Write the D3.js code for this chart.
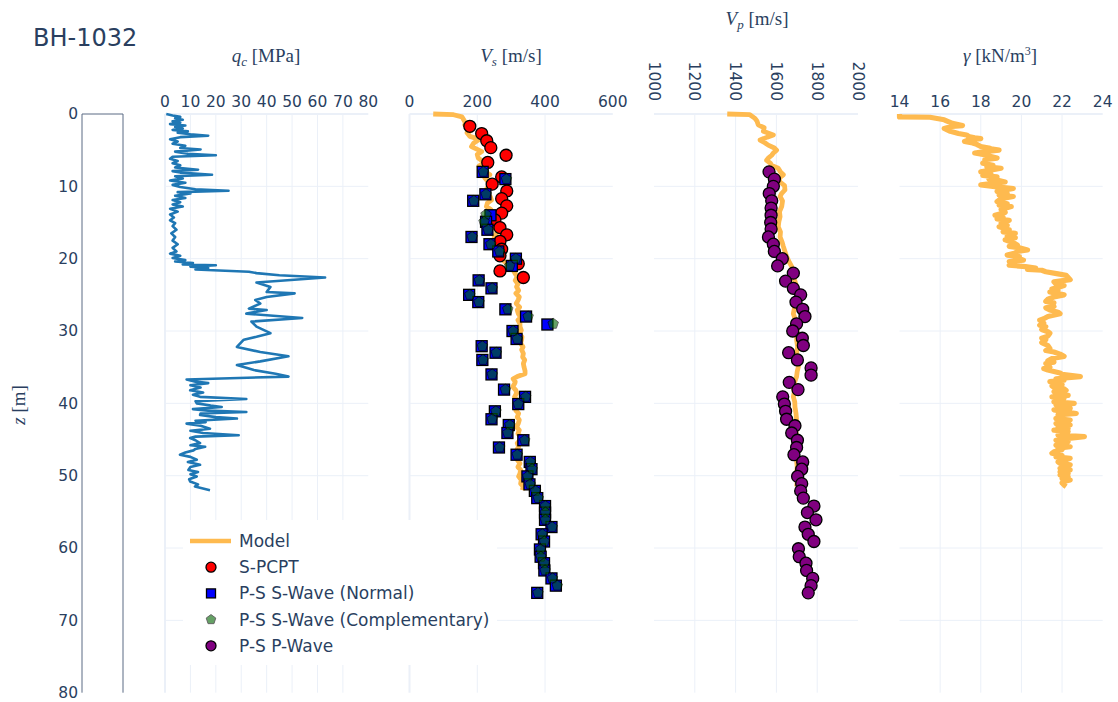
<!DOCTYPE html>
<html>
<head>
<meta charset="utf-8">
<script src="https://cdn.jsdelivr.net/npm/d3@7"></script>
<style>
  body { margin: 0; background: #fff; }
  text { font-family: "DejaVu Sans", Verdana, sans-serif; fill: #2a3f5f; }
  .math { font-family: "Liberation Serif", "DejaVu Serif", serif; }
</style>
</head>
<body>
<script>
const width = 1118, height = 702;

// ---- data ----
const depthTicks = [0, 10, 20, 30, 40, 50, 60, 70, 80];
const qcTicks = [0, 10, 20, 30, 40, 50, 60, 70, 80];
const vsTicks = [0, 200, 400, 600];
const vpTicks = [1000, 1200, 1400, 1600, 1800, 2000];
const gammaTicks = [14, 16, 18, 20, 22, 24];

// [depth m, qc MPa]
const qcProfile = [
  [0.0,0.5],[0.2,3],[0.4,6],[0.6,4],[0.8,7],[1.0,3],[1.2,6],[1.4,2],[1.6,8],[1.8,4],[2.0,7],[2.2,3],
  [2.4,9],[2.6,5],[2.8,10],[3.0,17],[3.2,6],[3.5,2],[3.8,5],[4.1,3],[4.4,8],[4.7,6],[4.9,14],[5.2,4],
  [5.5,9],[5.7,20],[5.9,3],[6.2,2],[6.5,5],[6.8,3],[7.1,6],[7.4,4],[7.7,13],[7.9,3],[8.1,6],[8.4,18.5],
  [8.6,4],[8.9,7],[9.2,2],[9.5,8],[9.8,3],[10.1,6],[10.4,12],[10.6,25],[10.8,5],[11.0,10],[11.3,4],
  [11.6,8],[11.9,3],[12.2,6],[12.5,3],[12.8,7],[13.1,2],[13.5,5],[13.9,2],[14.3,3.5],[14.7,2],[15.1,4],
  [15.5,3],[16.0,4.5],[16.5,2.5],[17.0,4],[17.5,3],[18.0,5],[18.5,3],[19.0,4.5],[19.3,2],[19.6,6],
  [19.9,3],[20.2,8],[20.4,4],[20.6,11],[20.8,7],[20.9,20],[21.1,10],[21.3,17],[21.5,12],[21.6,19],
  [21.8,33],[22.0,36],[22.3,45],[22.6,63],[23.3,36],[23.9,41.5],[24.6,40],[24.8,51],[25.3,40],
  [25.7,35.5],[26.2,37.5],[26.9,33],[27.1,40],[27.6,32],[28.2,54],[28.7,34],[29.4,36],[30.3,41.5],
  [30.8,36],[31.2,31],[32.2,28.3],[32.9,37.5],[33.5,48.6],[34.2,37.5],[34.7,28.3],[35.4,35],[35.9,43.5],
  [36.3,48.6],[36.7,8.5],[37.0,12],[37.2,17],[37.5,10],[37.8,14],[38.2,9.9],[38.5,15],[38.8,11],
  [39.1,13.8],[39.4,32],[39.7,12],[40.0,12.5],[40.3,18],[40.5,22.3],[40.8,11],[41.0,17],[41.2,32],
  [41.4,14],[41.6,13.8],[41.9,20],[42.1,28.3],[42.4,12],[42.6,16],[42.8,8.5],[43.1,14],[43.5,17.7],
  [43.8,10],[44.1,15],[44.4,29],[44.6,12],[44.8,9.9],[45.1,12],[45.5,13.8],[45.8,10],[46.0,15.8],
  [46.3,12],[46.5,11.2],[46.8,8],[47.1,5.9],[47.4,10],[47.8,12.5],[48.1,9],[48.5,13.8],[48.8,10],
  [49.2,9.2],[49.5,13],[49.8,10],[50.1,12.5],[50.5,9.5],[50.8,9.9],[51.2,13],[51.5,11.8],[52.0,17.7]
];

// [depth m, Vs m/s]
const vsModel = [
  [0,70],[0.1,130],[0.4,155],[0.8,160],[1.2,165],[1.5,163],[1.9,180],[2.2,183],[2.6,170],[3.1,178],
  [3.4,200],[3.6,203],[4.0,190],[4.5,183],[4.9,200],[5.2,213],[5.6,200],[6.1,203],[6.5,215],[6.8,218],
  [7.2,205],[7.7,208],[8.0,225],[8.4,237],[8.8,222],[9.1,227],[9.5,238],[10.0,232],[10.5,226],[11.0,223],
  [11.4,238],[11.9,242],[12.3,230],[12.8,227],[13.2,240],[13.7,237],[14.2,248],[14.7,252],[15.1,244],
  [15.6,247],[16.0,258],[16.5,257],[17.0,250],[17.4,252],[17.9,262],[18.3,267],[18.8,258],[19.3,262],
  [19.7,270],[20.1,272],[20.6,285],[21.1,296],[21.5,305],[22.0,311],[22.5,318],[23.0,312],[23.5,320],
  [23.9,316],[24.4,322],[24.8,314],[25.3,324],[25.7,321],[26.2,315],[26.7,325],[27.1,318],[27.6,321],
  [28.1,328],[28.5,320],[29.0,326],[29.4,326],[29.9,330],[30.4,324],[30.8,332],[31.2,331],[31.7,328],
  [32.2,335],[32.6,331],[33.1,336],[33.6,334],[34.0,340],[34.5,336],[35.0,338],[35.5,341],[35.9,341],
  [36.3,318],[36.6,306],[37.0,312],[37.2,311],[37.7,305],[38.2,314],[38.6,316],[39.1,310],[39.6,318],
  [40.0,315],[40.5,321],[41.0,314],[41.4,322],[41.9,318],[42.3,324],[42.8,321],[43.3,316],[43.7,324],
  [44.2,320],[44.6,328],[45.1,326],[45.5,318],[46.0,322],[46.5,316],[46.9,323],[47.4,321],[47.8,318],
  [48.3,326],[48.8,320],[49.2,328],[49.7,326],[50.1,322],[50.6,330],[51.1,328],[51.5,336],[52.0,333]
];
const vsPCPT = [
  [1.7,178],[2.7,213],[3.7,228],[4.65,240],[5.7,285],[6.7,231],[8.7,272],[9.7,244],[10.65,287],
  [11.7,272],[12.7,287],[13.7,272],[14.65,252],[15.7,267],[16.7,287],[17.6,267],[18.7,272],[19.6,267],
  [20.7,321],[21.7,267],[22.6,336]
];
const vsNormal = [
  [8.0,216],[9.0,283],[11.1,224],[12.0,188],[14.0,239],[14.9,226],[16.0,230],[17.0,183],[18.0,236],
  [19.0,262],[20.0,314],[21.0,302],[23.0,204],[24.1,242],[25.0,176],[26.0,203],[27.0,283],[28.0,344],
  [29.1,407],[30.0,304],[31.1,316],[32.1,213],[33.0,254],[34.0,215],[36.0,242],[38.1,279],[39.1,341],
  [40.1,321],[41.1,252],[42.2,242],[43.0,293],[44.1,289],[45.1,336],[46.1,264],[47.1,316],[48.1,355],
  [49.1,360],[50.1,348],[51.2,354],[52.1,370],[53.1,377],[54.2,400],[55.1,400],[56.1,400],[57.1,419],
  [58.1,390],[59.1,397],[60.2,385],[61.2,387],[62.1,397],[63.1,398],[64.2,419],[65.2,432],[66.2,377]
];
const vsComplementary = [
  [8.0,218],[9.0,286],[11.1,226],[12.0,190],[13.9,226],[14.9,220],[16.0,232],[17.0,185],[18.0,240],
  [19.0,266],[20.0,314],[21.0,296],[23.0,206],[24.1,244],[25.0,178],[26.0,205],[27.0,290],[28.0,350],
  [29.0,424],[30.0,306],[31.1,318],[32.1,215],[33.0,256],[34.0,217],[36.0,244],[38.1,283],[39.1,343],
  [40.1,321],[41.1,255],[42.2,244],[43.0,296],[44.1,290],[45.1,340],[46.1,266],[47.1,318],[48.1,357],
  [49.1,362],[50.1,349],[51.2,356],[52.1,372],[53.1,380],[54.2,401],[55.1,401],[56.1,401],[57.1,421],
  [58.1,392],[59.1,398],[60.2,387],[61.2,388],[62.1,398],[63.1,400],[64.2,422],[65.2,436],[66.2,379]
];

// [depth m, Vp m/s]
const vpModel = [
  [0,1359],[0.1,1470],[0.6,1495],[1.0,1505],[1.5,1511],[1.9,1540],[2.4,1536],[2.9,1585],[3.2,1555],
  [3.6,1520],[4.0,1545],[4.3,1560],[4.7,1590],[5.0,1601],[5.4,1585],[5.7,1577],[6.1,1560],[6.4,1552],
  [6.8,1570],[7.1,1577],[7.5,1609],[8.0,1620],[8.4,1634],[8.9,1612],[9.4,1618],[9.9,1640],[10.5,1642],
  [11.0,1625],[11.4,1618],[12.0,1630],[12.8,1626],[13.5,1615],[14.2,1618],[14.9,1612],[15.6,1609],
  [16.3,1620],[17.0,1618],[17.7,1628],[18.3,1634],[19.0,1642],[19.7,1650],[20.4,1662],[21.1,1675],
  [21.8,1680],[22.5,1683],[23.2,1692],[23.9,1699],[24.8,1702],[25.7,1699],[26.6,1690],[27.6,1683],
  [28.5,1694],[29.4,1699],[30.3,1702],[31.2,1699],[32.2,1704],[33.1,1699],[34.0,1706],[34.9,1708],
  [35.6,1702],[36.3,1699],[37.0,1690],[37.7,1683],[38.4,1688],[39.1,1683],[39.8,1690],[40.5,1691],
  [41.4,1696],[42.3,1699],[43.2,1694],[44.2,1697],[45.1,1702],[46.0,1699],[47.0,1697],[47.9,1699],
  [48.8,1702],[49.7,1699],[50.6,1703],[51.5,1699]
];
const vpPWave = [
  [8.0,1564],[9.0,1590],[10.0,1585],[11.0,1565],[12.0,1577],[13.0,1574],[14.0,1574],[15.0,1572],
  [15.9,1574],[17.0,1561],[18.0,1585],[19.0,1590],[20.0,1629],[21.0,1606],[22.0,1683],[23.1,1645],
  [24.1,1683],[25.0,1719],[26.0,1696],[27.0,1729],[28.0,1740],[29.0,1699],[30.0,1680],[31.0,1727],
  [32.0,1732],[33.0,1660],[34.0,1703],[35.1,1770],[36.1,1770],[37.1,1663],[38.1,1706],[39.1,1631],
  [40.1,1639],[41.1,1645],[42.2,1650],[43.1,1691],[44.1,1675],[45.1,1703],[46.1,1699],[47.1,1686],
  [48.1,1729],[49.1,1724],[50.1,1704],[51.1,1724],[52.1,1719],[53.1,1732],[54.2,1784],[55.1,1752],
  [56.1,1794],[57.1,1740],[58.1,1756],[59.1,1784],[60.1,1708],[61.2,1712],[62.1,1745],[63.1,1748],
  [64.2,1778],[65.2,1770],[66.2,1756]
];

// [depth m, unit weight kN/m3]
const gammaModel = [
  [0.0,14.0],[0.4,14.0],[0.45,15.5],[0.8,16.2],[1.3,16.6],[1.6,17.1],[1.7,16.6],[2.0,16.2],[2.4,16.5],
  [2.7,16.9],[2.9,17.3],[3.1,17.4],[3.3,17.7],[3.4,18.0],[3.6,17.4],[3.8,17.2],[4.0,17.6],[4.2,17.8],
  [4.5,18.0],[4.7,18.4],[4.8,18.5],[5.0,18.9],[5.2,18.2],[5.4,17.7],[5.6,18.1],[5.8,18.4],[6.1,18.8],
  [6.3,18.2],[6.4,18.3],[6.8,18.1],[7.1,18.6],[7.3,18.3],[7.5,19.0],[7.8,18.4],[8.0,18.0],[8.3,18.5],
  [8.5,18.1],[8.7,18.8],[9.0,18.4],[9.2,18.9],[9.4,19.2],[9.6,18.6],[9.8,18.0],[10.1,18.9],[10.3,19.6],
  [10.5,19.2],[10.7,18.8],[11.0,19.3],[11.2,18.9],[11.4,19.6],[11.7,19.0],[12.1,18.8],[12.4,19.3],
  [12.6,18.9],[12.8,19.5],[13.2,19.0],[13.6,19.2],[14.0,18.7],[14.3,19.1],[14.5,18.8],[14.7,19.4],
  [15.1,19.0],[15.4,19.3],[15.6,18.9],[16.0,19.4],[16.3,19.1],[16.5,19.7],[16.9,19.3],[17.1,19.7],
  [17.4,19.2],[17.8,19.6],[18.1,19.8],[18.3,19.4],[18.5,19.9],[18.8,20.3],[19.0,19.8],[19.2,19.7],
  [19.5,19.3],[19.7,19.9],[19.9,19.8],[20.2,20.1],[20.4,19.4],[20.6,19.6],[20.9,19.4],[21.1,20.2],
  [21.3,20.7],[21.5,20.3],[21.6,21.0],[21.8,21.2],[22.1,21.8],[22.3,22.2],[22.6,22.3],[22.9,22.4],
  [23.2,21.6],[23.5,21.7],[23.7,22.1],[23.9,21.9],[24.2,21.5],[24.4,21.8],[24.6,21.4],[25.0,22.1],
  [25.3,21.6],[25.6,21.3],[25.9,21.2],[26.1,21.6],[26.3,21.5],[26.6,21.6],[26.8,21.2],[27.1,21.4],
  [27.4,21.8],[27.6,21.9],[28.0,21.3],[28.3,21.1],[28.5,20.9],[28.9,21.1],[29.2,20.9],[29.4,21.2],
  [29.8,21.0],[30.1,21.3],[30.3,21.4],[30.7,21.3],[31.0,21.0],[31.2,21.2],[31.6,21.0],[32.0,21.3],
  [32.4,21.4],[32.7,21.2],[32.9,21.6],[33.2,21.9],[33.5,22.1],[33.8,21.5],[34.1,21.3],[34.3,21.6],
  [34.5,21.2],[35.0,21.4],[35.2,21.1],[35.4,21.3],[35.8,21.9],[36.0,22.0],[36.3,22.9],[36.6,21.7],
  [36.8,22.1],[37.0,21.4],[37.2,21.9],[37.4,22.0],[37.6,21.5],[37.8,21.6],[38.0,22.1],[38.2,22.2],
  [38.4,21.6],[38.6,21.8],[38.9,22.3],[39.1,21.5],[39.3,22.1],[39.5,22.0],[39.8,21.6],[40.0,22.6],
  [40.2,21.7],[40.4,21.9],[40.7,22.4],[40.9,21.6],[41.2,22.2],[41.4,22.7],[41.6,21.8],[41.8,22.0],
  [42.1,21.7],[42.3,22.4],[42.5,22.3],[42.8,21.7],[43.0,22.4],[43.3,21.8],[43.5,22.3],[43.7,21.6],
  [43.9,22.3],[44.1,22.2],[44.4,21.8],[44.6,23.1],[44.9,22.1],[45.1,21.7],[45.3,22.3],[45.5,22.1],
  [45.8,21.7],[46.0,22.4],[46.2,21.8],[46.4,22.0],[46.7,21.6],[46.9,21.5],[47.2,22.0],[47.4,21.7],
  [47.6,22.4],[47.9,22.1],[48.1,21.8],[48.3,21.9],[48.5,22.4],[48.7,22.2],[49.0,21.9],[49.2,22.4],
  [49.5,21.9],[49.7,22.3],[49.9,21.9],[50.2,22.3],[50.4,22.0],[50.6,22.4],[50.8,22.1],[51.0,22.0],
  [51.3,22.1],[51.5,22.2]
];

const legendNames = ["Model", "S-PCPT", "P-S S-Wave (Normal)", "P-S S-Wave (Complementary)", "P-S P-Wave"];

// ---- layout ----
const gridColor = "#EBF0F8", modelColor = "#FEBA4F";

const svg = d3.select("body").append("svg")
    .attr("width", width)
    .attr("height", height);

const y = d3.scaleLinear().domain([0, 80]).range([114, 692.7]);

const xQc = d3.scaleLinear().domain([0, 80]).range([165, 368.3]);
const xVs = d3.scaleLinear().domain([0, 600]).range([409.5, 612.8]);
const xVp = d3.scaleLinear().domain([1000, 2000]).range([654, 858]);
const xGamma = d3.scaleLinear().domain([14, 24]).range([899.5, 1102.7]);

function drawGrid(x, ticks, rotated) {
  const [x0, x1] = x.range();
  const g = svg.append("g");
  g.selectAll("line.h")
    .data(depthTicks.filter(d => d < 80))
    .join("line")
    .attr("x1", x0).attr("x2", x1)
    .attr("y1", d => y(d)).attr("y2", d => y(d))
    .attr("stroke", gridColor)
    .attr("stroke-width", d => d === 0 ? 2 : 1);
  g.selectAll("line.v")
    .data(ticks.filter(d => d === 0 || (d > x.domain()[0] && d < x.domain()[1])))
    .join("line")
    .attr("x1", d => x(d)).attr("x2", d => x(d))
    .attr("y1", y(0)).attr("y2", y(80))
    .attr("stroke", gridColor)
    .attr("stroke-width", d => d === 0 ? 2 : 1);

  const labels = g.selectAll("text")
    .data(ticks)
    .join("text")
    .attr("font-size", 15.5)
    .text(d => d);
  if (rotated) {
    labels.attr("transform", d => `translate(${x(d)},101) rotate(90)`)
      .attr("text-anchor", "end")
      .attr("dy", "0.35em");
  } else {
    labels.attr("x", d => x(d)).attr("y", 107).attr("text-anchor", "middle");
  }
}

drawGrid(xQc, qcTicks);
drawGrid(xVs, vsTicks);
drawGrid(xVp, vpTicks, true);
drawGrid(xGamma, gammaTicks);

// depth axis strip (top, left and right edges)
svg.append("path")
    .attr("d", `M82,${y(80)}V${y(0)}H123V${y(80)}`)
    .attr("fill", "none")
    .attr("stroke", "#5b6b84")
    .attr("stroke-width", 1);

svg.append("g").selectAll("text")
    .data(depthTicks)
    .join("text")
    .attr("x", 78)
    .attr("y", d => y(d))
    .attr("dy", "0.35em")
    .attr("text-anchor", "end")
    .attr("font-size", 15.5)
    .text(d => d);

// ---- traces ----
function profile(data, x, color, w) {
  svg.append("path")
    .datum(data)
    .attr("fill", "none")
    .attr("stroke", color)
    .attr("stroke-width", w)
    .attr("stroke-linejoin", "round")
    .attr("d", d3.line().x(d => x(d[1])).y(d => y(d[0])));
}

function pentagon(r) {
  return d3.range(5).map(i => {
    const a = -Math.PI / 2 + i * 2 * Math.PI / 5;
    return [r * Math.cos(a), r * Math.sin(a)];
  });
}
const pentPath = "M" + pentagon(5.5).join("L") + "Z";

profile(qcProfile, xQc, "#1f77b4", 2.6);
profile(vsModel, xVs, modelColor, 4.8);
profile(vpModel, xVp, modelColor, 4.8);
profile(gammaModel, xGamma, modelColor, 5.2);

svg.append("g").selectAll("circle")
    .data(vsPCPT)
    .join("circle")
    .attr("cx", d => xVs(d[1])).attr("cy", d => y(d[0]))
    .attr("r", 6)
    .attr("fill", "red")
    .attr("stroke", "black").attr("stroke-width", 1.3);

svg.append("g").selectAll("rect")
    .data(vsNormal)
    .join("rect")
    .attr("x", d => xVs(d[1]) - 5.5).attr("y", d => y(d[0]) - 5.5)
    .attr("width", 11).attr("height", 11)
    .attr("fill", "blue")
    .attr("stroke", "black").attr("stroke-width", 1.3);

svg.append("g").selectAll("path")
    .data(vsComplementary)
    .join("path")
    .attr("transform", d => `translate(${xVs(d[1])},${y(d[0])})`)
    .attr("d", pentPath)
    .attr("fill", "darkgreen")
    .attr("stroke", "black").attr("stroke-width", 1)
    .attr("opacity", 0.6);

svg.append("g").selectAll("circle")
    .data(vpPWave)
    .join("circle")
    .attr("cx", d => xVp(d[1])).attr("cy", d => y(d[0]))
    .attr("r", 6)
    .attr("fill", "purple")
    .attr("stroke", "black").attr("stroke-width", 1.3);

// ---- titles ----
svg.append("text")
    .attr("x", 33).attr("y", 46)
    .attr("font-size", 24)
    .text("BH-1032");

function mathTitle(cx, cy, sym, sub, unit, sup) {
  const t = svg.append("text")
    .attr("class", "math")
    .attr("x", cx).attr("y", cy)
    .attr("text-anchor", "middle")
    .attr("font-size", 19);
  t.append("tspan").attr("font-style", "italic").text(sym);
  if (sub) t.append("tspan").attr("font-style", "italic").attr("font-size", 13).attr("dy", 4).text(sub);
  t.append("tspan").attr("dy", sub ? -4 : 0).text(" [" + unit);
  if (sup) t.append("tspan").attr("font-size", 12).attr("dy", -7).text(sup);
  t.append("tspan").attr("dy", sup ? 7 : 0).text("]");
}
mathTitle(266, 62, "q", "c", "MPa");
mathTitle(511, 62, "V", "s", "m/s");
mathTitle(757, 25, "V", "p", "m/s");
mathTitle(1000, 62, "γ", null, "kN/m", "3");

svg.append("text")
    .attr("class", "math")
    .attr("transform", "translate(25,405) rotate(-90)")
    .attr("text-anchor", "middle")
    .attr("font-size", 19)
    .html('<tspan font-style="italic">z</tspan> [m]');

// ---- legend ----
const legend = svg.append("g");
legend.append("rect")
    .attr("x", 183).attr("y", 520)
    .attr("width", 314).attr("height", 145)
    .attr("fill", "#fff");

const rowY = i => 541 + i * 26.2;
legend.selectAll("text")
    .data(legendNames)
    .join("text")
    .attr("x", 239).attr("y", (d, i) => rowY(i))
    .attr("dy", "0.35em")
    .attr("font-size", 17)
    .text(d => d);

legend.append("line")
    .attr("x1", 190).attr("x2", 231)
    .attr("y1", rowY(0)).attr("y2", rowY(0))
    .attr("stroke", modelColor).attr("stroke-width", 4.5);
legend.append("circle")
    .attr("cx", 211).attr("cy", rowY(1)).attr("r", 5)
    .attr("fill", "red").attr("stroke", "black").attr("stroke-width", 1.3);
legend.append("rect")
    .attr("x", 206.5).attr("y", rowY(2) - 4.5).attr("width", 9).attr("height", 9)
    .attr("fill", "blue").attr("stroke", "black").attr("stroke-width", 1.3);
legend.append("path")
    .attr("transform", `translate(211,${rowY(3)})`)
    .attr("d", "M" + pentagon(5).join("L") + "Z")
    .attr("fill", "darkgreen").attr("stroke", "black").attr("stroke-width", 1)
    .attr("opacity", 0.6);
legend.append("circle")
    .attr("cx", 211).attr("cy", rowY(4)).attr("r", 5)
    .attr("fill", "purple").attr("stroke", "black").attr("stroke-width", 1.3);
</script>
</body>
</html>
